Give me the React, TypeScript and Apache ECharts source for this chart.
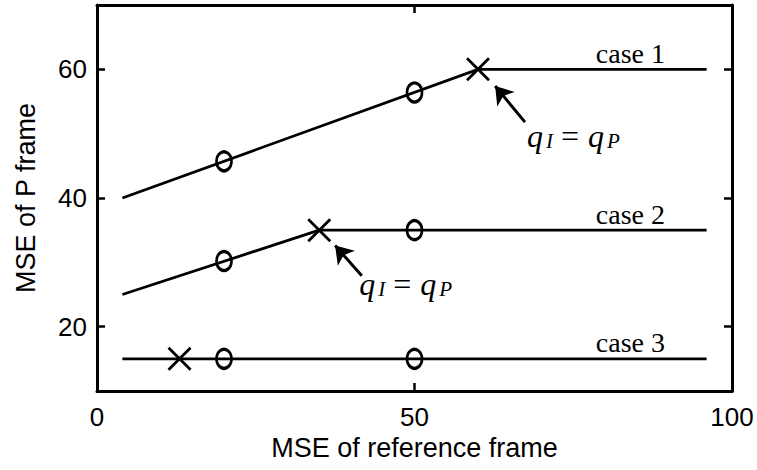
import React, { useEffect, useRef } from "react";
import * as echarts from "echarts";

// Axis ranges and tick positions
const xRange = [0, 100];
const yRange = [10, 70];
const xTicks = [0, 50, 100];
const yTicks = [20, 40, 60];

// Each case: the MSE curve, the sampled points (circles) and the q_I = q_P point (cross)
const case1Line = [[4, 40], [60, 60], [96, 60]];
const case1Circles = [[20, 45.7], [50, 56.4]];
const case1Cross = [[60, 60]];

const case2Line = [[4, 25], [35, 35], [96, 35]];
const case2Circles = [[20, 30.2], [50, 35]];
const case2Cross = [[35, 35]];

const case3Line = [[4, 15], [96, 15]];
const case3Circles = [[20, 15], [50, 15]];
const case3Cross = [[13, 15]];

const caseNames = ["case 1", "case 2", "case 3"];
const caseLabelAt = [[84, 60], [84, 35], [84, 15]];

// Arrows pointing at the crosses, and where their captions start
const arrowTails = [[67.4, 51.8], [41.7, 27.9]];
const arrowTips = [[62.7, 57.4], [37.5, 32.6]];
const captionAt = [[67.7, 49.6], [41.3, 26.6]];

const SANS = "'Liberation Sans', Arial, Helvetica, sans-serif";
const SERIF = "'Liberation Serif', 'Times New Roman', serif";
const INK = "#000";

export default function App() {
  const ref = useRef<HTMLDivElement>(null);

  useEffect(() => {
    if (!ref.current) return;
    const chart = echarts.init(ref.current, undefined, { renderer: "svg" });

    const axisLine = { show: true, onZero: false, lineStyle: { color: INK, width: 3 } };
    // Inward ticks on all four sides of the box
    const tick = (values: number[]) => ({
      show: true,
      inside: true,
      length: 8,
      customValues: values,
      lineStyle: { color: INK, width: 2.5 },
    });

    const lineSeries = (name: string, data: number[][], labelIdx: number, withArrow: number | null) => {
      const s: any = {
        name,
        type: "line",
        data,
        symbol: "none",
        lineStyle: { color: INK, width: 2.8 },
        silent: true,
        z: 2,
        markPoint: {
          symbol: "circle",
          symbolSize: 0,
          silent: true,
          data: [
            {
              coord: caseLabelAt[labelIdx],
              label: {
                show: true,
                position: "top",
                distance: 2,
                formatter: caseNames[labelIdx],
                color: INK,
                fontFamily: SERIF,
                fontSize: 28,
                lineHeight: 28,
              },
            },
          ],
        },
      };
      if (withArrow !== null) {
        s.markPoint.data.push({
          coord: captionAt[withArrow],
          label: {
            show: true,
            position: "right",
            distance: 0,
            formatter: "{q|q}{sub|I}{eq|=}{q|q}{sub|P}",
            rich: {
              q: {
                fontFamily: SERIF,
                fontStyle: "italic",
                fontSize: 32,
                lineHeight: 30,
                color: INK,
              },
              eq: {
                fontFamily: SERIF,
                fontSize: 32,
                lineHeight: 30,
                color: INK,
                padding: [0, 9, 0, 8],
              },
              sub: {
                fontFamily: SERIF,
                fontStyle: "italic",
                fontSize: 21,
                lineHeight: 12,
                verticalAlign: "bottom",
                color: INK,
                padding: [0, 0, 0, 3],
              },
            },
          },
        });
        s.markLine = {
          silent: true,
          animation: false,
          label: { show: false },
          lineStyle: { color: INK, width: 3, type: "solid" },
          data: [
            [
              { coord: arrowTails[withArrow], symbol: "none" },
              { coord: arrowTips[withArrow], symbol: "arrow", symbolSize: 17 },
            ],
          ],
        };
      }
      return s;
    };

    const circleSeries = (data: number[][]) => ({
      type: "scatter",
      data,
      symbol: "circle",
      symbolSize: [15, 19],
      silent: true,
      z: 3,
      itemStyle: { color: "rgba(0,0,0,0)", borderColor: INK, borderWidth: 3, opacity: 1 },
    });

    const crossSeries = (data: number[][]) => ({
      type: "scatter",
      data,
      symbol: "path://M0,0L20,20M20,0L0,20",
      symbolSize: 22,
      silent: true,
      z: 3,
      itemStyle: { color: "none", borderColor: INK, borderWidth: 2.8, opacity: 1 },
    });

    chart.setOption({
      animation: false,
      backgroundColor: "#fff",
      grid: { left: 97, right: 25, top: 5, bottom: 79, containLabel: false },
      xAxis: [
        {
          type: "value",
          position: "bottom",
          min: xRange[0],
          max: xRange[1],
          name: "MSE of reference frame",
          nameLocation: "middle",
          nameGap: 40,
          nameTextStyle: { fontFamily: SANS, fontSize: 27, color: INK, lineHeight: 27 },
          axisLine,
          axisTick: tick(xTicks),
          splitLine: { show: false },
          axisLabel: {
            show: true,
            customValues: xTicks,
            margin: 13,
            fontFamily: SANS,
            fontSize: 26,
            lineHeight: 25,
            color: INK,
          },
        },
        {
          type: "value",
          position: "top",
          min: xRange[0],
          max: xRange[1],
          axisLine,
          axisTick: tick(xTicks),
          splitLine: { show: false },
          axisLabel: { show: false },
        },
      ],
      yAxis: [
        {
          type: "value",
          position: "left",
          min: yRange[0],
          max: yRange[1],
          name: "MSE of P frame",
          nameLocation: "middle",
          nameGap: 58,
          nameTextStyle: { fontFamily: SANS, fontSize: 27, color: INK, lineHeight: 27 },
          axisLine,
          axisTick: tick(yTicks),
          splitLine: { show: false },
          axisLabel: {
            show: true,
            customValues: yTicks,
            margin: 10,
            fontFamily: SANS,
            fontSize: 26,
            color: INK,
          },
        },
        {
          type: "value",
          position: "right",
          min: yRange[0],
          max: yRange[1],
          axisLine,
          axisTick: tick(yTicks),
          splitLine: { show: false },
          axisLabel: { show: false },
        },
      ],
      series: [
        lineSeries("case 1", case1Line, 0, 0),
        lineSeries("case 2", case2Line, 1, 1),
        lineSeries("case 3", case3Line, 2, null),
        circleSeries([...case1Circles, ...case2Circles, ...case3Circles]),
        crossSeries([...case1Cross, ...case2Cross, ...case3Cross]),
      ],
    });

    return () => chart.dispose();
  }, []);

  return (
    <div
      ref={ref}
      style={{ position: "fixed", left: 0, top: 0, width: 757, height: 470, background: "#fff" }}
    />
  );
}
